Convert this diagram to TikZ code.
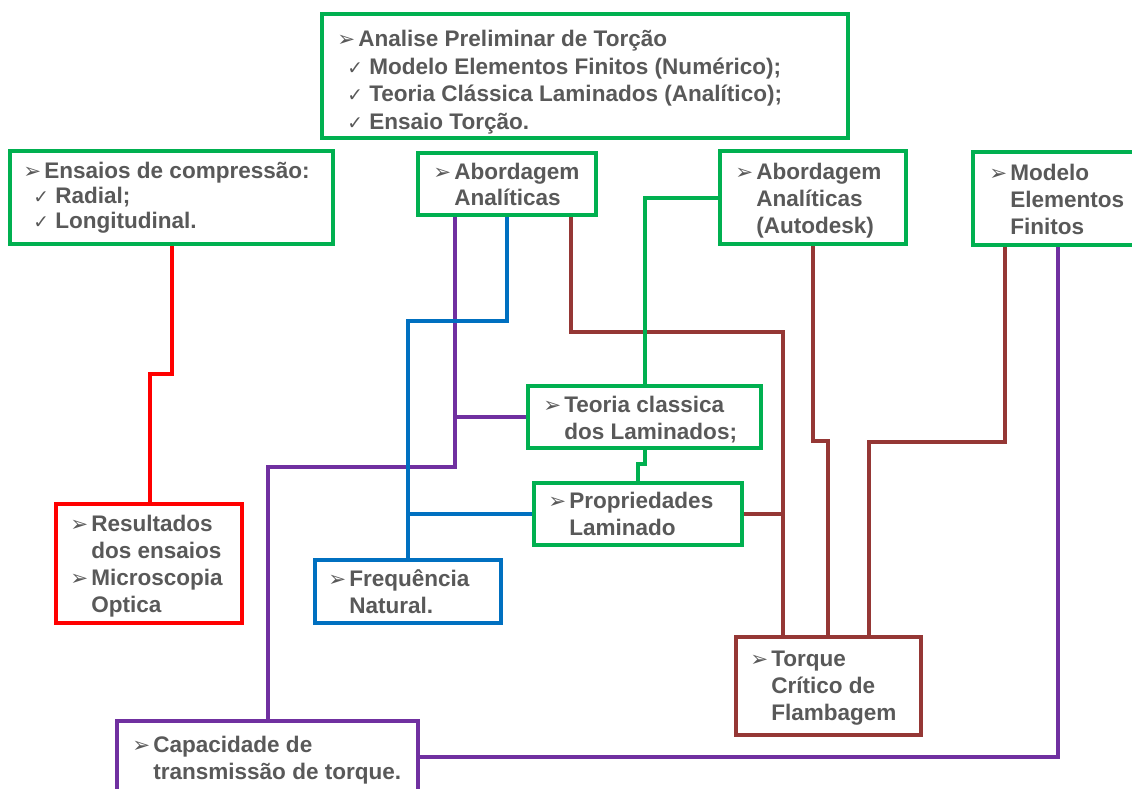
\documentclass[tikz,border=0pt]{standalone}
\usepackage{fontspec}
\setmainfont{Liberation Sans}
\newfontfamily\symf{DejaVu Sans}
\usetikzlibrary{fit}
\definecolor{gr}{HTML}{00B050}
\definecolor{rd}{HTML}{FF0000}
\definecolor{bl}{HTML}{0070C0}
\definecolor{br}{HTML}{953735}
\definecolor{pu}{HTML}{7030A0}
\definecolor{tx}{HTML}{595959}
\newcommand\arr{\makebox[15.75pt][l]{\symf\fontsize{16}{16}\selectfont ➢}}
\newcommand\chk{\hspace*{7.5pt}\makebox[16.5pt][l]{\symf\fontsize{14}{14}\selectfont ✓}}
\newcommand\ind{\hspace*{15.75pt}}
\newcommand\bsz[1]{\fontsize{16.9}{#1}\selectfont\bfseries}
\begin{document}
\begin{tikzpicture}[x=0.75pt,y=-0.75pt,
  box/.style={draw=#1,line width=3pt,inner sep=0pt,fill=white},
  ln/.style={draw=#1,line width=3pt},
  txt/.style={anchor=north west,inner sep=0pt,align=left,text=tx}]
\useasboundingbox (0,0) rectangle (1132,789);
\fill[white] (0,0) rectangle (1132,789);
% coordinates of bends
\coordinate (r1) at (172,374); \coordinate (r2) at (150,374);
\coordinate (p1) at (455,467); \coordinate (p2) at (268,467);
\coordinate (b1) at (507,321); \coordinate (b2) at (408,321);
\coordinate (w1) at (571,332); \coordinate (w2) at (783,332);
\coordinate (g1) at (645,198);
\coordinate (g2) at (645,464); \coordinate (g3) at (638,464);
\coordinate (a1) at (813,441); \coordinate (a2) at (828,441);
\coordinate (m1) at (1005,442); \coordinate (m2) at (869,442);
\coordinate (q1) at (1058,757);
% boxes
\node[box=gr,fit={(322,14)(848,138)}] (top) {};
\node[box=gr,fit={(10,151)(333,244)}] (ens) {};
\node[box=gr,fit={(418,153)(596,215)}] (ab) {};
\node[box=gr,fit={(720,151)(906,244)}] (aut) {};
\node[box=gr,fit={(973,152)(1145,245)}] (mod) {};
\node[box=gr,fit={(528,386)(761,448)}] (teo) {};
\node[box=gr,fit={(534,483)(742,545)}] (prop) {};
\node[box=rd,fit={(56,504)(242,623)}] (res) {};
\node[box=bl,fit={(315,560)(501,623)}] (freq) {};
\node[box=br,fit={(736,637)(921,735)}] (tor) {};
\node[box=pu,fit={(117,721)(418,805)}] (cap) {};
% connectors
\draw[ln=rd] (ens.south -| r1) -- (r1) -- (r2) -- (r2 |- res.north);
\draw[ln=pu] (ab.south -| p1) -- (p1) -- (p2) -- (p2 |- cap.north);
\draw[ln=pu] (p1 |- teo.west) -- (teo.west);
\draw[ln=bl] (ab.south -| b1) -- (b1) -- (b2) -- (b2 |- freq.north);
\draw[ln=bl] (b2 |- prop.west) -- (prop.west);
\draw[ln=br] (ab.south -| w1) -- (w1) -- (w2) -- (w2 |- tor.north);
\draw[ln=br] (prop.east) -- (prop.east -| w2);
\draw[ln=gr] (aut.west |- g1) -- (g1) -- (g1 |- teo.north);
\draw[ln=gr] (teo.south -| g2) -- (g2) -- (g3) -- (g3 |- prop.north);
\draw[ln=br] (aut.south -| a1) -- (a1) -- (a2) -- (a2 |- tor.north);
\draw[ln=br] (mod.south -| m1) -- (m1) -- (m2) -- (m2 |- tor.north);
\draw[ln=pu] (mod.south -| q1) -- (q1) -- (cap.east |- q1);
% texts
\node[txt,font={\bsz{20.8pt}}] (ttop) at (337,26.6) {\strut\arr Analise Preliminar de Torção\\ \chk Modelo Elementos Finitos (Numérico);\\ \chk Teoria Clássica Laminados (Analítico);\\ \chk Ensaio Torção.};
\node[txt,font={\bsz{18.75pt}}] (tens) at (23,160.5) {\strut\arr Ensaios de compressão:\\ \chk Radial;\\ \chk Longitudinal.};
\node[txt,font={\bsz{19.5pt}}] (tab) at (433,160.8) {\strut\arr Abordagem\\ \ind Analíticas};
\node[txt,font={\bsz{20.25pt}}] (taut) at (735,160.1) {\strut\arr Abordagem\\ \ind Analíticas\\ \ind (Autodesk)};
\node[txt,font={\bsz{20.25pt}}] (tmod) at (989,161.1) {\strut\arr Modelo\\ \ind Elementos\\ \ind Finitos};
\node[txt,font={\bsz{20.25pt}}] (tteo) at (543,393.1) {\strut\arr Teoria classica\\ \ind dos Laminados;};
\node[txt,font={\bsz{20.25pt}}] (tprop) at (548,489.1) {\strut\arr Propriedades\\ \ind Laminado};
\node[txt,font={\bsz{20.25pt}}] (tres) at (70,512.1) {\strut\arr Resultados\\ \ind dos ensaios\\ \arr Microscopia\\ \ind Optica};
\node[txt,font={\bsz{20.25pt}}] (tfreq) at (328,567.1) {\strut\arr Frequência\\ \ind Natural.};
\node[txt,font={\bsz{20.25pt}}] (ttor) at (750,647.1) {\strut\arr Torque\\ \ind Crítico de\\ \ind Flambagem};
\node[txt,font={\bsz{20.25pt}}] (tcap) at (132,733.1) {\strut\arr Capacidade de\\ \ind transmissão de torque.};
\end{tikzpicture}
\end{document}
